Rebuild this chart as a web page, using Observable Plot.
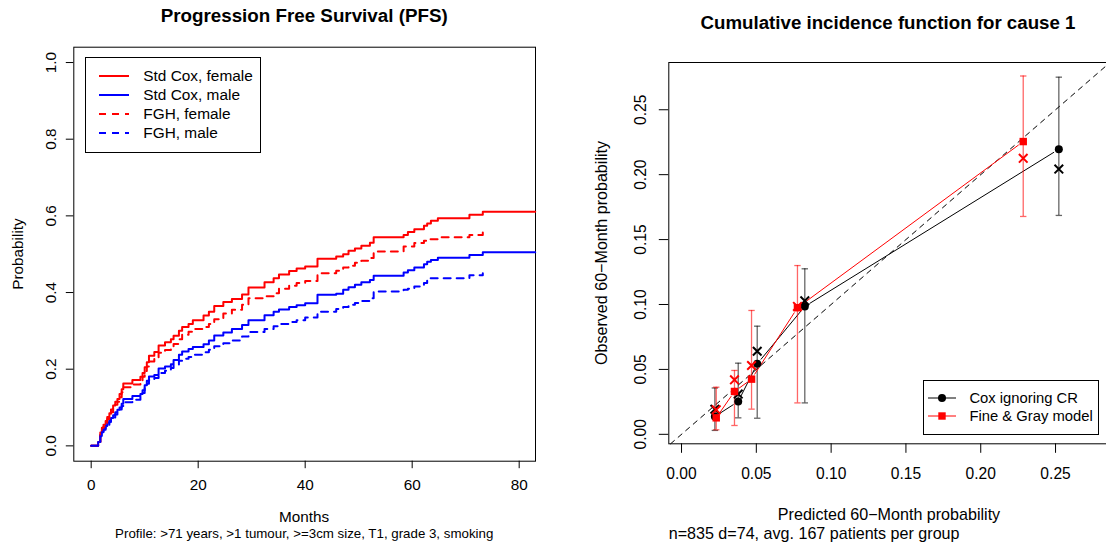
<!DOCTYPE html>
<html><head><meta charset="utf-8">
<script src="https://cdn.jsdelivr.net/npm/d3@7"></script>
<script src="https://cdn.jsdelivr.net/npm/@observablehq/plot@0.6"></script>
<style>
html,body{margin:0;padding:0;background:#fff;overflow:hidden;}
#wrap{position:relative;width:1106px;height:545px;overflow:hidden;font-family:"Liberation Sans",Arial,Helvetica,sans-serif;color:#000;}
.abs{position:absolute;white-space:nowrap;line-height:1;}
.c{transform:translate(-50%,-50%);}
.r{transform:translate(-50%,-50%) rotate(-90deg);}
.lg{position:absolute;border:1px solid #000;box-sizing:border-box;background:#fff;}
svg{position:absolute;top:0;}
</style></head><body><div id="wrap"></div>
<script>
// ---------- Left panel data (step curves) ----------
const months = [0, 1.3, 1.7, 2.0, 2.3, 2.7, 3.0, 3.4, 3.7, 4.1, 4.5, 4.9, 5.3, 5.7, 6.0, 7.7, 9.2, 9.6, 10.0, 10.4, 10.8, 11.8, 12.6, 13.8, 14.9, 15.4, 16.4, 17.0, 18.2, 19.0, 21.0, 22.0, 23.0, 24.7, 26.3, 28.2, 29.4, 32.4, 34.1, 35.1, 37.0, 38.4, 40.0, 42.3, 45.8, 47.1, 48.1, 49.3, 50.5, 52.1, 52.8, 58.4, 59.2, 60.4, 62.2, 62.8, 63.5, 64.8, 70.7, 73.2, 83.0];
const stdCoxFemale = [0, 0.01, 0.035, 0.047, 0.055, 0.065, 0.075, 0.085, 0.095, 0.105, 0.115, 0.122, 0.135, 0.148, 0.163, 0.172, 0.18, 0.19, 0.205, 0.218, 0.235, 0.245, 0.262, 0.27, 0.278, 0.287, 0.3, 0.31, 0.318, 0.328, 0.34, 0.35, 0.365, 0.375, 0.383, 0.395, 0.413, 0.427, 0.437, 0.447, 0.456, 0.463, 0.468, 0.488, 0.494, 0.5, 0.509, 0.515, 0.522, 0.53, 0.544, 0.55, 0.558, 0.565, 0.574, 0.58, 0.587, 0.594, 0.603, 0.611, 0.611];
const stdCoxMale = [0, 0.01, 0.028, 0.038, 0.045, 0.052, 0.06, 0.067, 0.073, 0.08, 0.088, 0.094, 0.1, 0.11, 0.122, 0.13, 0.135, 0.145, 0.158, 0.17, 0.181, 0.185, 0.202, 0.207, 0.213, 0.224, 0.238, 0.246, 0.253, 0.258, 0.265, 0.275, 0.288, 0.296, 0.305, 0.315, 0.328, 0.341, 0.35, 0.356, 0.362, 0.367, 0.372, 0.394, 0.397, 0.407, 0.414, 0.42, 0.427, 0.433, 0.444, 0.452, 0.458, 0.465, 0.474, 0.48, 0.485, 0.491, 0.498, 0.505, 0.505];
const fghFemale = [0, 0.008, 0.03, 0.042, 0.05, 0.06, 0.07, 0.078, 0.088, 0.097, 0.107, 0.115, 0.127, 0.14, 0.153, 0.16, 0.168, 0.18, 0.195, 0.207, 0.22, 0.228, 0.243, 0.25, 0.258, 0.266, 0.278, 0.29, 0.298, 0.305, 0.31, 0.318, 0.33, 0.345, 0.355, 0.368, 0.385, 0.39, 0.398, 0.41, 0.418, 0.425, 0.43, 0.45, 0.457, 0.465, 0.47, 0.478, 0.483, 0.49, 0.507, 0.52, 0.52, 0.529, 0.535, 0.539, 0.539, 0.544, 0.55, 0.559, null];
const fghMale = [0, 0.008, 0.025, 0.034, 0.042, 0.048, 0.055, 0.062, 0.068, 0.074, 0.082, 0.088, 0.095, 0.104, 0.114, 0.12, 0.128, 0.138, 0.152, 0.162, 0.172, 0.177, 0.19, 0.196, 0.203, 0.212, 0.222, 0.227, 0.232, 0.238, 0.244, 0.251, 0.26, 0.268, 0.275, 0.285, 0.297, 0.305, 0.312, 0.318, 0.323, 0.328, 0.335, 0.35, 0.357, 0.362, 0.368, 0.373, 0.378, 0.385, 0.403, 0.407, 0.41, 0.416, 0.425, 0.437, 0.437, 0.437, 0.445, 0.45, null];
const curveNames = ["Std Cox, female", "Std Cox, male", "FGH, female", "FGH, male"];
const curveColors = ["#ff0000", "#0000ff", "#ff0000", "#0000ff"];
const curveDashes = [null, null, "7,6", "7,6"];
const monthTicks = [0, 20, 40, 60, 80];
const probTicks = [0, 0.2, 0.4, 0.6, 0.8, 1.0];

// ---------- Right panel data (calibration) ----------
const predCox  = [0.0223, 0.0379, 0.0506, 0.0824, 0.2522];
const obsCox   = [0.0137, 0.0253, 0.0543, 0.0985, 0.2196];
const obsCoxX  = [0.0193, 0.0310, 0.0640, 0.1028, 0.2043];
const lowCox   = [0.0030, 0.0127, 0.0124, 0.0242, 0.1686];
const highCox  = [0.0357, 0.0548, 0.0833, 0.1275, 0.2751];
const predFG   = [0.0232, 0.0354, 0.0468, 0.0775, 0.2284];
const obsFG    = [0.0127, 0.0330, 0.0425, 0.0975, 0.2255];
const obsFGX   = [0.0189, 0.0420, 0.0530, 0.0985, 0.2126];
const lowFG    = [0.0035, 0.0068, 0.0194, 0.0242, 0.1678];
const highFG   = [0.0363, 0.0492, 0.0954, 0.1300, 0.2760];
const calTicks = [0, 0.05, 0.10, 0.15, 0.20, 0.25];
const calXDomain = [-0.0085, 0.2864];
const calYDomain = [-0.0073, 0.2864];

const FONT = '"Liberation Sans", Arial, Helvetica, sans-serif';
const wrap = document.getElementById("wrap");

// ---------- Left plot ----------
const curveRows = [stdCoxFemale, stdCoxMale, fghFemale, fghMale].map(vals =>
  months.map((t, i) => ({t, p: vals[i]})).filter(d => d.p != null));

const left = Plot.plot({
  width: 560, height: 545,
  marginLeft: 73.3, marginRight: 25, marginTop: 46.7, marginBottom: 84.3,
  style: {fontFamily: FONT, background: "transparent", overflow: "visible"},
  x: {domain: [-3.25, 83.05], ticks: monthTicks, tickSize: 7.5, tickFormat: () => "", label: null},
  y: {domain: [-0.04, 1.04], ticks: probTicks, tickSize: 7.5, tickFormat: () => "", label: null},
  marks: [
    Plot.frame({stroke: "#000", strokeWidth: 1}),
    ...curveRows.map((rows, k) => Plot.line(rows, {
      x: "t", y: "p", curve: "step-after", stroke: curveColors[k], strokeWidth: 2,
      strokeDasharray: curveDashes[k] || undefined
    })),
    Plot.text(monthTicks, {x: d => d, frameAnchor: "bottom", dy: 24.3, text: d => String(d), lineAnchor: "middle", fontSize: 15.3}),
    Plot.text(probTicks, {y: d => d, frameAnchor: "left", dx: -23, rotate: -90, text: d => d.toFixed(1), lineAnchor: "middle", textAnchor: "middle", fontSize: 15.3})
  ]
});
left.style.left = "0px";
wrap.appendChild(left);

// ---------- Right plot ----------
const hbar = {draw(ctx, size) { const r = Math.sqrt(size / Math.PI); ctx.moveTo(-r, 0); ctx.lineTo(r, 0); }};
const idx = d3.range(predCox.length);
const segs = (px, py) => d3.pairs(idx).map(([a, b]) => ({x1: px[a], y1: py[a], x2: px[b], y2: py[b]}));
const diagEnds = [Math.max(calXDomain[0], calYDomain[0]), Math.min(calXDomain[1], calYDomain[1])];

const right = Plot.plot({
  width: 560, height: 545,
  marginLeft: 108.3, marginRight: 10.5, marginTop: 62, marginBottom: 101.7,
  style: {fontFamily: FONT, background: "transparent", overflow: "visible"},
  x: {domain: calXDomain, ticks: calTicks, tickSize: 9.5, tickFormat: () => "", label: null},
  y: {domain: calYDomain, ticks: calTicks, tickSize: 9.5, tickFormat: () => "", label: null},
  marks: [
    Plot.frame({stroke: "#000", strokeWidth: 1}),
    Plot.line(diagEnds, {x: d => d, y: d => d, stroke: "#000", strokeWidth: 1, strokeDasharray: "5,5"}),
    // Cox ignoring CR
    Plot.arrow(segs(predCox, obsCox), {x1: "x1", y1: "y1", x2: "x2", y2: "y2", stroke: "#000", strokeWidth: 1, headLength: 0, insetStart: 6, insetEnd: 6}),
    Plot.ruleX(idx, {x: i => predCox[i], y1: i => lowCox[i], y2: i => highCox[i], stroke: "#000", strokeOpacity: 0.6, strokeWidth: 1.3}),
    Plot.dot(idx, {x: i => predCox[i], y: i => lowCox[i], symbol: hbar, r: 3.2, stroke: "#000", strokeOpacity: 0.6, strokeWidth: 1.3}),
    Plot.dot(idx, {x: i => predCox[i], y: i => highCox[i], symbol: hbar, r: 3.2, stroke: "#000", strokeOpacity: 0.6, strokeWidth: 1.3}),
    // Fine & Gray
    Plot.arrow(segs(predFG, obsFG), {x1: "x1", y1: "y1", x2: "x2", y2: "y2", stroke: "#ff0000", strokeWidth: 1, headLength: 0, insetStart: 6, insetEnd: 6}),
    Plot.ruleX(idx, {x: i => predFG[i], y1: i => lowFG[i], y2: i => highFG[i], stroke: "#ff0000", strokeOpacity: 0.6, strokeWidth: 1.3}),
    Plot.dot(idx, {x: i => predFG[i], y: i => lowFG[i], symbol: hbar, r: 3.2, stroke: "#ff0000", strokeOpacity: 0.6, strokeWidth: 1.3}),
    Plot.dot(idx, {x: i => predFG[i], y: i => highFG[i], symbol: hbar, r: 3.2, stroke: "#ff0000", strokeOpacity: 0.6, strokeWidth: 1.3}),
    // points
    Plot.dot(idx, {x: i => predCox[i], y: i => obsCox[i], symbol: "circle", r: 4, fill: "#000"}),
    Plot.dot(idx, {x: i => predCox[i], y: i => obsCoxX[i], symbol: "times", r: 4, stroke: "#000", strokeWidth: 2}),
    Plot.dot(idx, {x: i => predFG[i], y: i => obsFG[i], symbol: "square", r: 4.2, fill: "#ff0000"}),
    Plot.dot(idx, {x: i => predFG[i], y: i => obsFGX[i], symbol: "times", r: 4, stroke: "#ff0000", strokeWidth: 2}),
    Plot.text(calTicks, {x: d => d, frameAnchor: "bottom", dy: 30.5, text: d => d.toFixed(2), lineAnchor: "middle", fontSize: 15.6}),
    Plot.text(calTicks, {y: d => d, frameAnchor: "left", dx: -28, rotate: -90, text: d => d.toFixed(2), lineAnchor: "middle", textAnchor: "middle", fontSize: 15.6})
  ]
});
right.style.left = "560px";
wrap.appendChild(right);

// ---------- Texts ----------
function addText(txt, x, y, cls, size, weight, extra) {
  const d = document.createElement("div");
  d.className = "abs " + cls;
  d.textContent = txt;
  d.style.left = x + "px"; d.style.top = y + "px";
  d.style.fontSize = size + "px";
  if (weight) d.style.fontWeight = weight;
  if (extra) Object.assign(d.style, extra);
  wrap.appendChild(d);
  return d;
}
addText("Progression Free Survival (PFS)", 304.2, 16, "c", 18.8, "bold");
addText("Probability", 18, 253.7, "r", 15.3);
addText("Months", 304.2, 517, "c", 15.3);
addText("Profile: >71 years, >1 tumour, >=3cm size, T1, grade 3, smoking", 304.2, 533.5, "c", 13.3);

addText("Cumulative incidence function for cause 1", 888, 23, "c", 18.7, "bold");
addText("Observed 60\u2212Month probability", 601, 252.6, "r", 16.1);
addText("Predicted 60\u2212Month probability", 889, 514, "c", 16.1);
addText("n=835 d=74, avg. 167 patients per group", 668.7, 533, "", 16.1, null, {transform: "translateY(-50%)"});

// ---------- Legends ----------
function legendBox(x, y, w, h) {
  const b = document.createElement("div");
  b.className = "lg";
  Object.assign(b.style, {left: x + "px", top: y + "px", width: w + "px", height: h + "px"});
  wrap.appendChild(b);
}
const NS = "http://www.w3.org/2000/svg";
function sampleSvg(x, y, w, h) {
  const s = document.createElementNS(NS, "svg");
  s.setAttribute("width", w); s.setAttribute("height", h);
  s.style.left = x + "px"; s.style.top = y + "px"; s.style.position = "absolute";
  wrap.appendChild(s);
  return s;
}
function el(parent, tag, attrs) {
  const e = document.createElementNS(NS, tag);
  for (const k in attrs) e.setAttribute(k, attrs[k]);
  parent.appendChild(e);
  return e;
}
// left legend
legendBox(85, 57.3, 176, 96);
const leftRows = [76.3, 95.3, 114.3, 133.3];
curveNames.forEach((name, k) => {
  const s = sampleSvg(98, leftRows[k] - 3, 33, 6);
  el(s, "line", {x1: 1, y1: 3, x2: 31, y2: 3, stroke: curveColors[k], "stroke-width": 2, "stroke-dasharray": curveDashes[k] || "none"});
  addText(name, 143.3, leftRows[k], "", 15.4, null, {transform: "translateY(-50%)"});
});
// right legend
legendBox(923.4, 379.8, 176, 55);
const rLegNames = ["Cox ignoring CR", "Fine & Gray model"];
const rLegColors = ["#000", "#ff0000"];
const rRows = [398.3, 416.4];
rLegNames.forEach((name, k) => {
  const s = sampleSvg(926, rRows[k] - 6, 34, 12);
  el(s, "line", {x1: 2, y1: 6, x2: 30, y2: 6, stroke: rLegColors[k], "stroke-width": 1});
  if (k === 0) el(s, "circle", {cx: 16, cy: 6, r: 4, fill: "#000"});
  else el(s, "rect", {x: 12.3, y: 2.3, width: 7.4, height: 7.4, fill: "#ff0000"});
  addText(name, 969.4, rRows[k], "", 14.8, null, {transform: "translateY(-50%)"});
});
</script>
</body></html>
